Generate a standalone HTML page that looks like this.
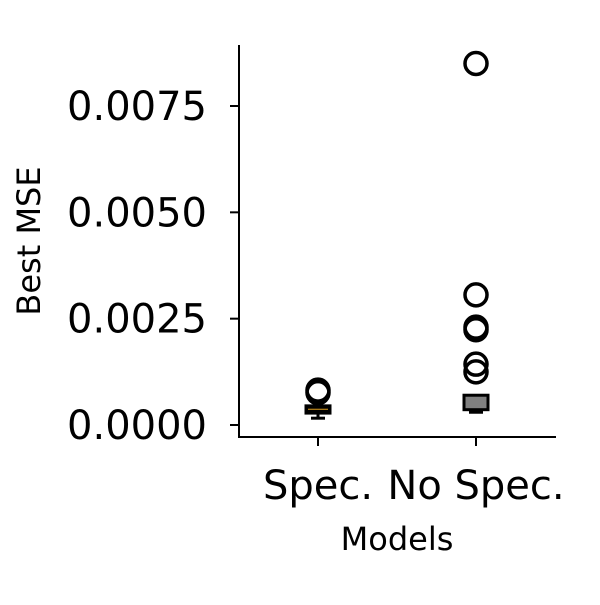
<!DOCTYPE html>
<html><head><meta charset="utf-8"><style>body{margin:0;background:#fff}svg text{font-family:"DejaVu Sans","Liberation Sans",sans-serif}</style></head>
<body>
<svg id="c" width="600" height="600" xmlns="http://www.w3.org/2000/svg"></svg>
<script>
const categories=["Spec.","No Spec."];
const q1=[0.00028,0.00036];
const q3=[0.00045,0.00070];
const medians=[0.00037,0.00052];
const whiskLo=[0.00016,0.00030];
const whiskHi=[0.00050,0.00070];
const outliers=[[0.00082,0.00076],[0.0085,0.00306,0.0023,0.00224,0.00143,0.00125]];
const yTicks=[0,0.0025,0.005,0.0075];
const yTickLabels=["0.0000","0.0025","0.0050","0.0075"];
const ns="http://www.w3.org/2000/svg",svg=document.getElementById('c');
const y=v=>425-v*42533, x=i=>318+i*158;
function el(t,a,p){const e=document.createElementNS(ns,t);for(const k in a)e.setAttribute(k,a[k]);(p||svg).appendChild(e);return e;}
let e;
e=el('line',{x1:239,y1:45,x2:239,y2:438,stroke:'#000','stroke-width':2});

e=el('line',{x1:238,y1:437,x2:556,y2:437,stroke:'#000','stroke-width':2});

yTicks.forEach((v,i)=>{
 e=el('line',{x1:230,y1:y(v),x2:239,y2:y(v),stroke:'#000','stroke-width':2});
 
 e=el('text',{x:207,y:y(v)+14,'text-anchor':'end','font-size':40});e.textContent=yTickLabels[i];
 
});
categories.forEach((c,i)=>{
 e=el('line',{x1:x(i),y1:437,x2:x(i),y2:446,stroke:'#000','stroke-width':2});
 
 e=el('text',{x:x(i),y:499,'text-anchor':'middle','font-size':40});e.textContent=c;
 
 const g=el('g',{});
 
 el('line',{x1:x(i),y1:y(whiskLo[i]),x2:x(i),y2:y(q1[i]),stroke:'#000','stroke-width':3},g);
 el('line',{x1:x(i)-7,y1:y(whiskLo[i]),x2:x(i)+7,y2:y(whiskLo[i]),stroke:'#000','stroke-width':3},g);
 el('line',{x1:x(i),y1:y(whiskHi[i]),x2:x(i),y2:y(q3[i]),stroke:'#000','stroke-width':3},g);
 el('rect',{x:x(i)-12,y:y(q3[i]),width:24,height:Math.max(1,y(q1[i])-y(q3[i])),fill:i?'#808080':'#000',stroke:'#000','stroke-width':3},g);
 el('line',{x1:x(i)-10,y1:y(medians[i]),x2:x(i)+10,y2:y(medians[i]),stroke:i?'#808080':'#e0a020','stroke-width':1},g);
 outliers[i].forEach(v=>{
  e=el('circle',{cx:x(i),cy:y(v),r:11,fill:'none',stroke:'#000','stroke-width':3.5});
  
 });
});
e=el('text',{x:397,y:550,'text-anchor':'middle','font-size':32});e.textContent='Models';

e=el('text',{x:40,y:241,'text-anchor':'middle','font-size':32,transform:'rotate(-90 40 241)'});e.textContent='Best MSE';

</script>
</body></html>
